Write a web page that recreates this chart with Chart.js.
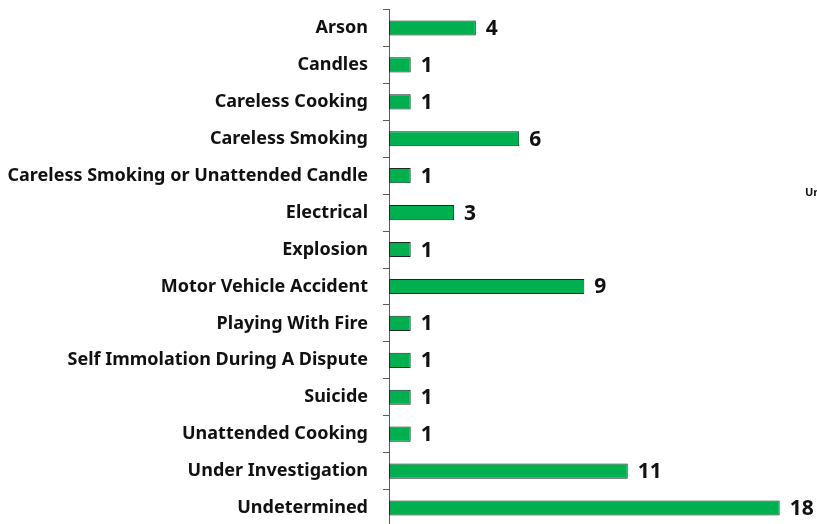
<!DOCTYPE html>
<html>
<head>
<meta charset="utf-8">
<script src="https://cdn.jsdelivr.net/npm/chart.js@4.4.1/dist/chart.umd.min.js"></script>
<style>
    html, body { margin: 0; padding: 0; background: #fff; overflow: hidden; }
    #wrap { position: absolute; left: 0; top: 0; width: 817px; height: 527px; }
</style>
</head>
<body>
<div id="wrap"><canvas id="chart" width="817" height="527"></canvas></div>
<script>
const causes = [
    'Arson',
    'Candles',
    'Careless Cooking',
    'Careless Smoking',
    'Careless Smoking or Unattended Candle',
    'Electrical',
    'Explosion',
    'Motor Vehicle Accident',
    'Playing With Fire',
    'Self Immolation During A Dispute',
    'Suicide',
    'Unattended Cooking',
    'Under Investigation',
    'Undetermined'
];
const fireCounts = [4, 1, 1, 6, 1, 3, 1, 9, 1, 1, 1, 1, 11, 18];

const labelFont = '"Noto Sans", "DejaVu Sans", sans-serif';

// value labels drawn to the right of each bar
const valueLabels = {
    id: 'valueLabels',
    afterDatasetsDraw(chart) {
        const ctx = chart.ctx;
        const meta = chart.getDatasetMeta(0);
        ctx.save();
        ctx.font = 'bold 21px ' + labelFont;
        ctx.fillStyle = '#111';
        ctx.textBaseline = 'middle';
        ctx.textAlign = 'left';
        meta.data.forEach((bar, i) => {
            ctx.fillText(String(fireCounts[i]), bar.x + 10, bar.y + 1);
        });
        // clipped legend text at the right edge
        ctx.font = 'bold 11px ' + labelFont;
        ctx.fillText('Undetermined', 805, 193);
        ctx.restore();
    }
};

new Chart(document.getElementById('chart'), {
    type: 'bar',
    data: {
        labels: causes,
        datasets: [{
            data: fireCounts,
            backgroundColor: '#00b050',
            borderColor: '#1c2a20',
            borderWidth: 1,
            borderSkipped: false,
            barPercentage: 0.41,
            categoryPercentage: 1
        }]
    },
    options: {
        indexAxis: 'y',
        responsive: false,
        animation: false,
        layout: { padding: { top: 9.5, bottom: 0.5, left: 0, right: 0 } },
        plugins: {
            legend: { display: false },
            tooltip: { enabled: false }
        },
        scales: {
            x: {
                display: false,
                min: 0,
                max: 19.72
            },
            y: {
                offset: true,
                afterFit(scale) {
                    scale.width = 389;
                    scale.paddingTop = 0;
                    scale.paddingBottom = 0;
                },
                border: { display: true, color: '#5a5a5a', width: 1 },
                grid: {
                    offset: true,
                    drawOnChartArea: false,
                    drawTicks: true,
                    tickLength: 6,
                    color: '#5a5a5a'
                },
                ticks: {
                    padding: 15,
                    color: '#111',
                    font: { family: labelFont, size: 18, weight: 'bold' }
                }
            }
        }
    },
    plugins: [valueLabels]
});
</script>
</body>
</html>
